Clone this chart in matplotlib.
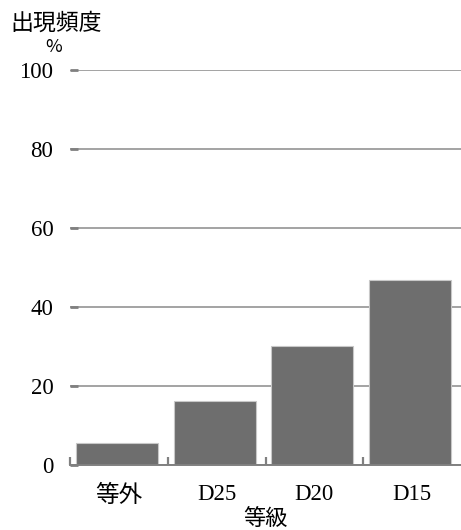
import numpy as np
from matplotlib import pyplot as plt

# data
categories = ['等外', 'D25', 'D20', 'D15']
frequency = [5.6, 16.2, 30.1, 46.8]
y_ticks = [0, 20, 40, 60, 80, 100]

plt.rcParams['font.family'] = ['Liberation Serif', 'Noto Sans CJK JP']

fig = plt.figure(figsize=(4.61, 5.30), dpi=100)
ax = fig.add_axes([70 / 461, 65 / 530, 391 / 461, 395 / 530])

x = np.arange(len(categories)) + 0.48
ax.bar(x, frequency, width=0.84, color='#6e6e6e', edgecolor='#c8c8c8', linewidth=0.8, zorder=3)

ax.set_xlim(0, 4)
ax.set_ylim(0, 100)

# y axis: grid lines and short inward ticks
ax.set_yticks(y_ticks)
ax.set_yticklabels([str(v) for v in y_ticks], fontsize=16.5)
ax.tick_params(axis='y', direction='in', length=6, width=2, color='#808080', pad=12)
ax.yaxis.grid(True, color='#8a8a8a', linewidth=1.1, zorder=0)

# x axis: ticks at category borders, labels at centres
ax.set_xticks(np.arange(len(categories)))
ax.set_xticklabels([])
ax.tick_params(axis='x', which='major', direction='in', length=6, width=1.6, color='#808080')
ax.set_xticks(np.arange(len(categories)) + 0.5, minor=True)
ax.set_xticklabels(categories, minor=True, fontsize=16.5)
ax.tick_params(axis='x', which='minor', length=0, pad=14)
ax.get_xticklabels(minor=True)[0].set_fontsize(17)

for side in ['left', 'right', 'top']:
    ax.spines[side].set_visible(False)
ax.spines['bottom'].set_color('#808080')
ax.spines['bottom'].set_linewidth(1.4)
ax.spines['bottom'].set_zorder(4)

ax.set_xlabel('等級', fontsize=16, family='Noto Sans CJK JP', labelpad=0)

fig.text(10 / 461, 1 - 23 / 530, '出現頻度', fontsize=16.5, family='Noto Sans CJK JP', va='center', ha='left')
fig.text(54 / 461, 1 - 47 / 530, '%', fontsize=13, family='Noto Sans CJK JP', va='center', ha='center')

fig.savefig('out.png', dpi=100)
